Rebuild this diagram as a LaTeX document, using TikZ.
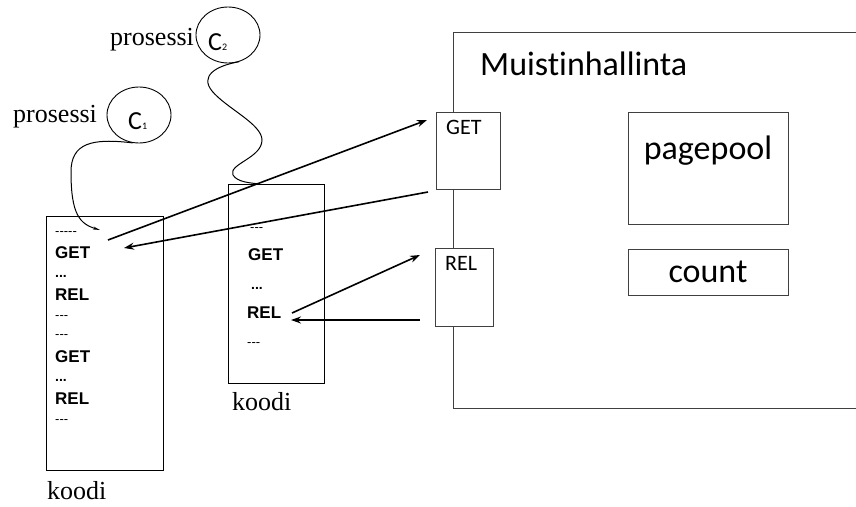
\documentclass[tikz,border=0pt]{standalone}
\usepackage{fontspec}
\setmainfont{Liberation Serif}
\newfontfamily\uifont{Carlito}[Ligatures=NoCommon]
\newfontfamily\codefont{Liberation Sans}
\usetikzlibrary{shapes,arrows.meta,positioning}

\begin{document}
\begin{tikzpicture}[
    x=1pt, y=-1pt,
    codebox/.style={rectangle, draw, line width=1pt, anchor=north west, inner sep=0pt},
    membox/.style={rectangle, draw=black!75, line width=1pt, fill=white, anchor=north west, inner sep=0pt},
    proc/.style={ellipse, draw, line width=0.9pt, minimum width=64pt, minimum height=56pt, inner sep=0pt},
    code/.style={font=\codefont\bfseries\fontsize{17}{17}\selectfont, anchor=base west, inner sep=0pt},
    filler/.style={font=\codefont\fontsize{13}{13}\selectfont, anchor=base west, inner sep=0pt},
    dots/.style={font=\codefont\bfseries\fontsize{14}{14}\selectfont, anchor=base west, inner sep=0pt},
    nametext/.style={font=\fontsize{26}{26}\selectfont, anchor=base west, inner sep=0pt},
    ctext/.style={font=\uifont\fontsize{26}{26}\selectfont, anchor=base west, inner sep=0pt},
    arrow/.style={-{Stealth[length=10pt,width=7pt]}, line width=1.6pt},
    wire/.style={line width=1pt}
]
    \useasboundingbox (0,0) rectangle (856,506);

    % muistinhallinta
    \node[membox, minimum width=430pt, minimum height=376pt] (mem) at (453,32) {};
    \node[font=\uifont\fontsize{34}{34}\selectfont, anchor=base west, inner sep=0pt] (memtxt) at (480,75) {Muistinhallinta};
    \node[membox, minimum width=64pt, minimum height=77pt] (getbox) at (436,112) {};
    \node[font=\uifont\fontsize{22}{22}\selectfont, anchor=base west, inner sep=0pt] (gettxt) at (446,134) {GET};
    \node[membox, minimum width=58pt, minimum height=78pt] (relbox) at (435,248) {};
    \node[font=\uifont\fontsize{22}{22}\selectfont, anchor=base west, inner sep=0pt] (reltxt) at (445,270) {REL};
    \node[membox, minimum width=160pt, minimum height=112pt] (pool) at (628,112) {};
    \node[font=\uifont\fontsize{34}{34}\selectfont, anchor=base, inner sep=0pt] (pooltxt) at (708,159) {pagepool};
    \node[membox, minimum width=160pt, minimum height=46pt] (count) at (628,249) {};
    \node[font=\uifont\fontsize{34}{34}\selectfont, anchor=base, inner sep=0pt] (counttxt) at (708,282) {count};

    % prosessit
    \node[proc] (c1) at (139,115) {};
    \node[ctext] (c1txt) at (128,129) {C{\fontsize{10}{10}\selectfont 1}};
    \node[nametext] (p1) at (13,122) {prosessi};
    \node[proc] (c2) at (228,35) {};
    \node[ctext] (c2txt) at (208,50) {C{\fontsize{10}{10}\selectfont 2}};
    \node[nametext] (p2) at (110,45) {prosessi};

    % koodi 1
    \node[codebox, minimum width=117pt, minimum height=254pt] (code1) at (46,216) {};
    \node[filler] (d1) at (55,235) {-{}-{}-{}-{}-};
    \node[code] (get1) at (55,258) {GET};
    \node[dots] (d2) at (55,277) {...};
    \node[code] (rel1) at (55,300) {REL};
    \node[filler] (d3) at (55,319) {-{}-{}-};
    \node[filler] (d4) at (55,338.5) {-{}-{}-};
    \node[code] (get2) at (55,362) {GET};
    \node[dots] (d5) at (55,381) {...};
    \node[code] (rel2) at (55,404) {REL};
    \node[filler] (d6) at (55,423.5) {-{}-{}-};
    \node[nametext] (k1) at (47,499) {koodi};

    % koodi 2
    \node[codebox, minimum width=96pt, minimum height=199pt] (code2) at (228,184) {};
    \node[filler] (e1) at (250,231.5) {-{}-{}-};
    \node[code] (get3) at (248,260) {GET};
    \node[dots] (e2) at (251,289.5) {...};
    \node[code] (rel3) at (247,318) {REL};
    \node[filler] (e3) at (247,346.5) {-{}-{}-};
    \node[nametext] (k2) at (232,410.5) {koodi};

    % kutsut
    \coordinate (get1out) at (108,240);
    \coordinate (get1in) at (124,248);
    \coordinate (getcall) at (427,120);
    \coordinate (getret) at (428,192);
    \coordinate (rel3out) at (292,313);
    \coordinate (rel3in) at (291,320);
    \coordinate (relcall) at (420,255);
    \coordinate (relret) at (420,320);
    \coordinate (c1end) at (100,230);
    \coordinate (c2end) at (260,184);

    \draw[arrow] (get1out) -- (getcall);
    \draw[arrow] (getret) -- (get1in);
    \draw[arrow] (rel3out) -- (relcall);
    \draw[arrow] (relret) -- (rel3in);

    \draw[wire, -{Stealth[open,length=7pt,width=3pt]}] (c1.-103) .. controls (92,138) and (71,143) .. (71,172)
        .. controls (71,215) and (80,224) .. (c1end);
    \draw[wire] (c2.-67) .. controls (215,66) and (200,76) .. (212,91)
        .. controls (226,108) and (262,124) .. (262,140)
        .. controls (262,158) and (228,164) .. (233,175)
        .. controls (237,182) and (250,183) .. (c2end);
\end{tikzpicture}
\end{document}
